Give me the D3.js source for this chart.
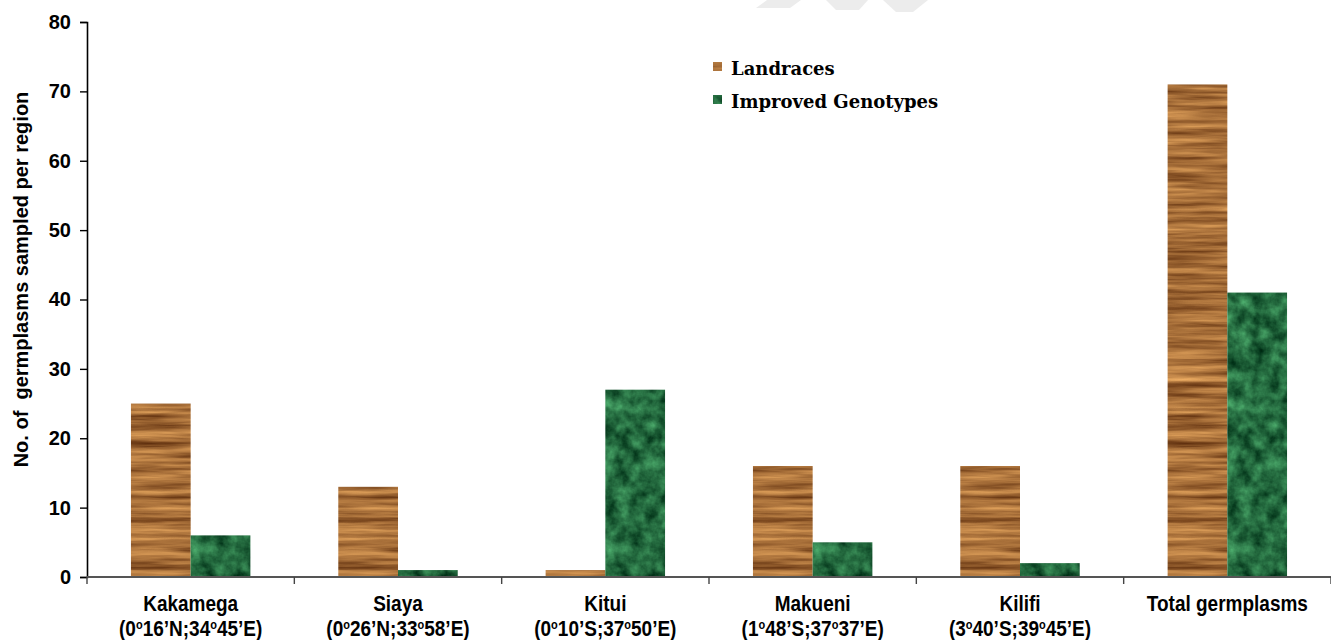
<!DOCTYPE html>
<html>
<head>
<meta charset="utf-8">
<script src="https://cdn.jsdelivr.net/npm/d3@7"></script>
<style>
  html, body { margin: 0; padding: 0; background: #fff; }
  svg { display: block; }
</style>
</head>
<body>
<svg id="chart" width="1331" height="640"></svg>
<script>
// Germplasm sampling per region
const regions = ["Kakamega", "Siaya", "Kitui", "Makueni", "Kilifi", "Total germplasms"];
const coords = [
  ["0", "16’N;34", "45’E)"],
  ["0", "26’N;33", "58’E)"],
  ["0", "10’S;37", "50’E)"],
  ["1", "48’S;37", "37’E)"],
  ["3", "40’S;39", "45’E)"],
  null
];
const seriesNames = ["Landraces", "Improved Genotypes"];
const landraces = [25, 13, 1, 16, 16, 71];
const improved = [6, 1, 27, 5, 2, 41];
const yTicks = [0, 10, 20, 30, 40, 50, 60, 70, 80];

const svg = d3.select("#chart");
const margin = { left: 87, right: 1331, top: 22, bottom: 577 };

const x0 = d3.scaleBand().domain(regions).range([margin.left, margin.right]).padding(0);
const bw = x0.bandwidth();
const x1 = d3.scaleBand().domain(seriesNames).range([bw * 0.212, bw * 0.788]).padding(0);
const y = d3.scaleLinear().domain([0, 80]).range([margin.bottom, margin.top]);

// Textures: wood grain for landraces, green marble for improved genotypes
const defs = svg.append("defs");
const wood = defs.append("filter").attr("id", "wood")
  .attr("x", 0).attr("y", 0).attr("width", 1).attr("height", 1)
  .attr("color-interpolation-filters", "sRGB");
wood.append("feTurbulence").attr("type", "fractalNoise")
  .attr("baseFrequency", "0.01 0.17").attr("numOctaves", 4).attr("seed", 7).attr("result", "n");
wood.append("feColorMatrix").attr("type", "matrix").attr("in", "n")
  .attr("values", "0.7 0 0 0 0.3  0.62 0 0 0 0.12  0.42 0 0 0 0.01  0 0 0 0 1").attr("result", "c");
wood.append("feComposite").attr("in", "c").attr("in2", "SourceGraphic").attr("operator", "in");

const marble = defs.append("filter").attr("id", "marble")
  .attr("x", 0).attr("y", 0).attr("width", 1).attr("height", 1)
  .attr("color-interpolation-filters", "sRGB");
marble.append("feTurbulence").attr("type", "fractalNoise")
  .attr("baseFrequency", "0.07").attr("numOctaves", 4).attr("seed", 3).attr("result", "n");
marble.append("feColorMatrix").attr("type", "matrix").attr("in", "n")
  .attr("values", "0.4 0 0 0 -0.06  0.65 0 0 0 0.09  0.45 0 0 0 0.02  0 0 0 0 1").attr("result", "c");
marble.append("feComposite").attr("in", "c").attr("in2", "SourceGraphic").attr("operator", "in");

const fills = { "Landraces": "#a06a38", "Improved Genotypes": "#1e6236" };
const filters = { "Landraces": "url(#wood)", "Improved Genotypes": "url(#marble)" };

// faint watermark fragments at the top edge
const wm = [
  [[756, 8], [767, 0], [801, 0], [790, 8]],
  [[826, 0], [868, 0], [859, 10], [836, 10]],
  [[883, 0], [928, 0], [913, 12], [896, 12]]
];
svg.append("g").selectAll("polygon").data(wm).join("polygon")
  .attr("points", d => d.map(p => p.join(",")).join(" "))
  .attr("fill", "#ececec");

// bars
const rows = regions.map((r, i) => ({ region: r, values: [landraces[i], improved[i]] }));
const groups = svg.append("g").selectAll("g").data(rows).join("g")
  .attr("transform", d => `translate(${x0(d.region)},0)`);
groups.selectAll("rect").data(d => seriesNames.map((s, j) => ({ s, v: d.values[j] }))).join("rect")
  .attr("x", d => x1(d.s))
  .attr("width", x1.bandwidth())
  .attr("y", d => y(d.v))
  .attr("height", d => y(0) - y(d.v))
  .attr("fill", d => fills[d.s])
  .attr("filter", d => filters[d.s]);

// y axis
const yAxis = d3.axisLeft(y).tickValues(yTicks).tickSize(7).tickSizeOuter(7).tickPadding(9);
const yg = svg.append("g").attr("transform", `translate(${margin.left},0)`).call(yAxis);
yg.select(".domain").attr("stroke", "#000").attr("stroke-width", 1.6);
yg.selectAll(".tick line").attr("stroke", "#000").attr("stroke-width", 1.4);
yg.selectAll(".tick text")
  .attr("font-family", "'Liberation Sans', Arial, sans-serif")
  .attr("font-weight", "bold").attr("font-size", 20).attr("fill", "#000");

// x axis line and category separators
svg.append("line")
  .attr("x1", margin.left).attr("x2", margin.right)
  .attr("y1", y(0)).attr("y2", y(0))
  .attr("stroke", "#555").attr("stroke-width", 2);
const seps = regions.map(r => x0(r)).concat([margin.right]);
svg.append("g").selectAll("line").data(seps).join("line")
  .attr("x1", d => d).attr("x2", d => d)
  .attr("y1", y(0)).attr("y2", y(0) + 7)
  .attr("stroke", "#444").attr("stroke-width", 1.4);

// x labels (slightly condensed, tall glyphs)
const lab = svg.append("g")
  .attr("font-family", "'Liberation Sans', Arial, sans-serif")
  .attr("font-weight", "bold").attr("font-size", 19).attr("fill", "#000")
  .attr("text-anchor", "middle");
regions.forEach((r, i) => {
  const cx = x0(r) + bw / 2;
  lab.append("text").attr("transform", `translate(${cx},611) scale(1,1.14)`).text(r);
  if (coords[i]) {
    const t = lab.append("text").attr("transform", `translate(${cx},636) scale(1,1.14)`);
    const c = coords[i];
    t.append("tspan").text("(" + c[0]);
    t.append("tspan").attr("font-size", 11).attr("dy", -6).text("o");
    t.append("tspan").attr("dy", 6).text(c[1]);
    t.append("tspan").attr("font-size", 11).attr("dy", -6).text("o");
    t.append("tspan").attr("dy", 6).text(c[2]);
  }
});

// y axis title
svg.append("text")
  .attr("transform", `translate(28,${(margin.top + margin.bottom) / 2 - 20}) rotate(-90)`)
  .attr("text-anchor", "middle")
  .attr("font-family", "'Liberation Sans', Arial, sans-serif")
  .attr("font-weight", "bold").attr("font-size", 20).attr("fill", "#000")
  .attr("xml:space", "preserve")
  .text("No. of  germplasms sampled per region");

// legend
const legend = svg.append("g").attr("transform", "translate(713,62)");
seriesNames.forEach((s, i) => {
  const g = legend.append("g").attr("transform", `translate(0,${i * 33})`);
  g.append("rect").attr("width", 9).attr("height", 9)
    .attr("fill", fills[s]).attr("filter", filters[s]);
  g.append("text").attr("x", 18).attr("y", 13)
    .attr("font-family", "'DejaVu Serif', 'Liberation Serif', serif")
    .attr("font-weight", "bold").attr("font-size", 18).attr("fill", "#000")
    .text(s);
});
</script>
</body>
</html>
